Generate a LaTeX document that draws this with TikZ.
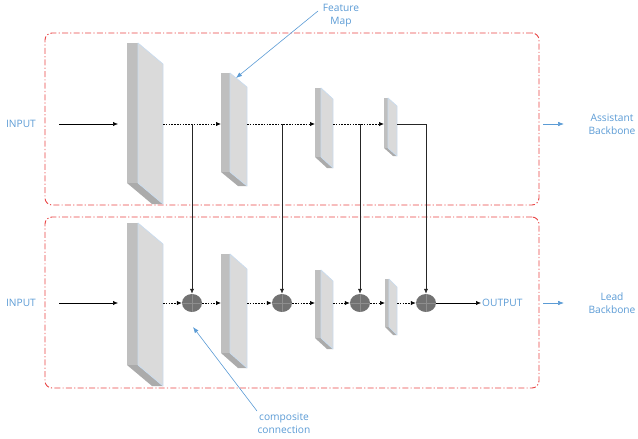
\documentclass[tikz,border=0pt]{standalone}
\usepackage{fontspec}
\setmainfont{Open Sans}
\usetikzlibrary{arrows.meta,shapes.geometric}

\definecolor{sidegray}{HTML}{BFBFBF}
\definecolor{frontgray}{HTML}{DADADA}
\definecolor{basegray}{HTML}{ABABAB}
\definecolor{glow}{HTML}{C9DCEF}
\definecolor{sumgray}{HTML}{727272}
\definecolor{crossgray}{HTML}{8E8E8E}
\definecolor{labelblue}{HTML}{5B9BD5}
\definecolor{boxred}{HTML}{E94444}

\tikzset{
  lbl/.style={font=\fontsize{10.2}{13}\selectfont, text=labelblue, align=center, inner sep=1pt},
  backbone/.style={draw=boxred, line width=0.9pt, rounded corners=7pt,
    dash pattern=on 6pt off 2.2pt on 1.2pt off 2.2pt},
  flow/.style={black, line width=0.7pt, dash pattern=on 1.6pt off 1.2pt, -{Latex[length=5pt,width=4.2pt]}},
  feed/.style={black!85, line width=0.8pt, -{Latex[length=5pt,width=4.2pt]}},
  pointer/.style={labelblue, line width=0.6pt, -{Latex[length=6pt,width=4.5pt]}},
  sumnode/.style={ellipse, fill=sumgray, minimum width=20pt, minimum height=18pt, inner sep=0pt,
    path picture={\draw[crossgray, line width=0.4pt]
      (path picture bounding box.north) -- (path picture bounding box.south)
      (path picture bounding box.west) -- (path picture bounding box.east);}},
}

% feature map slab: name, left x, side width, right x, top y, bottom y, slant, row y
\newcommand\featmap[8]{%
  \fill[sidegray] (#2,#5) rectangle (#2+#3,#6);
  \fill[basegray] (#2,#6) -- (#2+#3,#6) -- (#4,#6+#7) -- (#4-#3,#6+#7) -- cycle;
  \filldraw[fill=frontgray, draw=glow, line width=0.7pt, line join=round]
    (#2+#3,#5) -- (#4,#5+#7) -- (#4,#6+#7) -- (#2+#3,#6) -- cycle;
  \coordinate (#1w) at (#2,#8);
  \coordinate (#1e) at (#4,#8);
  \coordinate (#1tip) at (#2+#3+6,#5+5);
}

\begin{document}
\begin{tikzpicture}[x=1pt, y=-1pt]
  \useasboundingbox (0,0) rectangle (638,439);

  % the two backbone frames
  \node[backbone, minimum width=494pt, minimum height=172pt, inner sep=0pt] (assist) at (292,119) {};
  \node[backbone, minimum width=494pt, minimum height=171pt, inner sep=0pt] (lead) at (292,302.5) {};

  % assistant backbone feature maps
  \featmap{A1}{127}{11}{163}{43}{183}{21}{124}
  \featmap{A2}{221}{9}{247}{73}{172}{14}{124}
  \featmap{A3}{315}{6}{333}{88}{157}{11}{124}
  \featmap{A4}{384}{4}{397}{98}{148}{8}{124}

  % lead backbone feature maps
  \featmap{B1}{127}{11}{163}{223}{365}{21}{303}
  \featmap{B2}{221}{9}{247}{254}{353}{15}{303}
  \featmap{B3}{315}{6}{333}{270}{338}{11}{303}
  \featmap{B4}{385}{4}{397}{279}{327}{8}{303}

  % composite connection nodes
  \node[sumnode] (c1) at (192,303) {};
  \node[sumnode] (c2) at (282,303) {};
  \node[sumnode] (c3) at (360,303) {};
  \node[sumnode] (c4) at (426,303) {};

  % labels
  \node[lbl] (in1) at (21,124) {INPUT};
  \node[lbl] (in2) at (21,303) {INPUT};
  \node[lbl, anchor=west] (out) at (481,303) {OUTPUT};
  \node[lbl] (asb) at (612,124) {Assistant\\Backbone};
  \node[lbl] (ldb) at (612,303) {Lead\\Backbone};
  \node[lbl] (fm) at (341,16) {Feature\\Map};
  \node[lbl] (cc) at (284,423.5) {composite\\connection};

  % inputs
  \draw[feed, black, line width=0.6pt, shorten <=22pt, shorten >=9pt] (in1.east) -- (A1w);
  \draw[feed, black, line width=0.6pt, shorten <=22pt, shorten >=9pt] (in2.east) -- (B1w);

  % assistant backbone flow
  \draw[flow] (A1e) -- (A2w);
  \draw[flow] (A2e) -- (A3w);
  \draw[flow] (A3e) -- (A4w);

  % lead backbone flow
  \draw[flow] (B1e) -- (c1.west);
  \draw[flow] (c1.east) -- (B2w);
  \draw[flow] (B2e) -- (c2.west);
  \draw[flow] (c2.east) -- (B3w);
  \draw[flow] (B3e) -- (c3.west);
  \draw[flow] (c3.east) -- (B4w);
  \draw[flow] (B4e) -- (c4.west);
  \draw[feed, black, line width=0.6pt] (c4.east) -- (out.west);

  % composite connections from the assistant to the lead backbone
  \coordinate (j1) at (192,124);
  \coordinate (j2) at (282,124);
  \coordinate (j3) at (360,124);
  \draw[feed] (j1) -- (c1.north);
  \draw[feed] (j2) -- (c2.north);
  \draw[feed] (j3) -- (c3.north);
  \draw[feed] (A4e) -| (c4.north);

  % side arrows to the backbone names
  \coordinate (as0) at (543,124);
  \coordinate (as1) at (564,124);
  \coordinate (ld0) at (543,303);
  \coordinate (ld1) at (564,303);
  \draw[pointer] (as0) -- (as1);
  \draw[pointer] (ld0) -- (ld1);

  % callouts
  \coordinate (fm0) at (318,11);
  \draw[pointer] (fm0) -- (A2tip);
  \coordinate (cc0) at (257,411);
  \coordinate (cc1) at (193,327);
  \draw[pointer] (cc0) -- (cc1);
\end{tikzpicture}
\end{document}
